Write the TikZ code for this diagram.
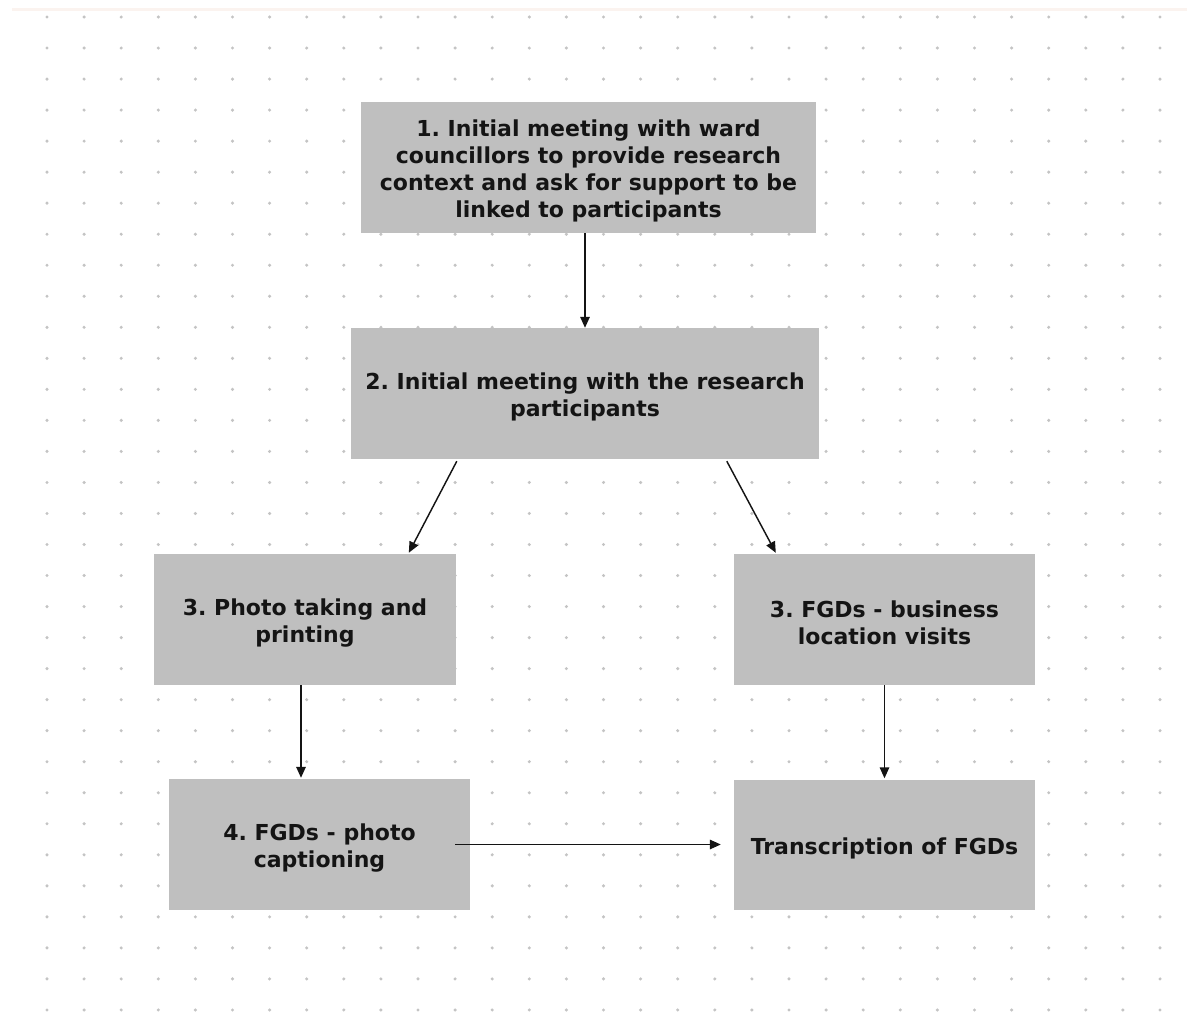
\documentclass[tikz,border=0pt]{standalone}
\usepackage{fontspec}
\setmainfont{DejaVu Sans}
\usetikzlibrary{arrows.meta,calc}
\definecolor{boxgray}{HTML}{BFBFBF}
\definecolor{dotgray}{HTML}{C4C4C4}
\definecolor{edgeline}{HTML}{FBF3EF}
\definecolor{ink}{HTML}{141414}
\frenchspacing

\begin{document}
\begin{tikzpicture}[x=1pt,y=-1pt,
  stepbox/.style={fill=boxgray, draw=none, inner sep=0pt},
  steptext/.style={align=center, text=ink, inner sep=0pt, yshift=-3.5pt,
    font=\fontsize{22}{27}\selectfont\bfseries},
  flow/.style={line width=1.45pt, draw=ink,
    -{Triangle[length=11pt,width=9.5pt]}}]
  \useasboundingbox (0,0) rectangle (1187,1012);
  \fill[white] (0,0) rectangle (1187,1012);
  % thin tinted rule along the top edge
  \fill[edgeline] (12,8) rectangle (1187,11);
  % dotted canvas grid
  \foreach \i in {0,...,30}
    \foreach \j in {0,...,32}
      \fill[dotgray] (47+37.1*\i, 17+31.03*\j) circle (1.7pt);

  % process steps
  \node[stepbox, minimum width=455pt, minimum height=131pt,
    label={[steptext]center:1. Initial meeting with ward\\councillors to provide research\\context and ask for support to be\\linked to participants}]
    (b1) at (588.5,167.5) {};
  \node[stepbox, minimum width=468pt, minimum height=131pt,
    label={[steptext]center:2. Initial meeting with the research\\participants}]
    (b2) at (585,393.5) {};
  \node[stepbox, minimum width=302pt, minimum height=131pt,
    label={[steptext]center:3. Photo taking and\\printing}]
    (b3l) at (305,619.5) {};
  \node[stepbox, minimum width=301pt, minimum height=131pt,
    label={[steptext]center:3. FGDs - business\\location visits}]
    (b3r) at (884.5,619.5) {};
  \node[stepbox, minimum width=301pt, minimum height=131pt,
    label={[steptext]center:4. FGDs - photo\\captioning}]
    (b4) at (319.5,844.5) {};
  \node[stepbox, minimum width=301pt, minimum height=130pt,
    label={[steptext]center:Transcription of FGDs}]
    (bt) at (884.5,844.5) {};

  % connectors
  \draw[flow] (b2.north |- b1.south) -- (b2.north);
  \draw[flow] ($(b2.south west)+(106,2)$) -- ($(b3l.north west)+(255,-1)$);
  \draw[flow] ($(b2.south west)+(376,2)$) -- ($(b3r.north west)+(42,-1)$);
  \coordinate (leftdrop) at ($(b3l.south)+(-4,0)$);
  \draw[flow] (leftdrop) -- ($(leftdrop |- b4.north)+(0,-1)$);
  \draw[flow] (b3r.south) -- ($(bt.north)+(0,-1)$);
  \draw[flow] ($(b4.east)+(-15,0)$) -- ($(bt.west)+(-13,0)$);
\end{tikzpicture}
\end{document}
